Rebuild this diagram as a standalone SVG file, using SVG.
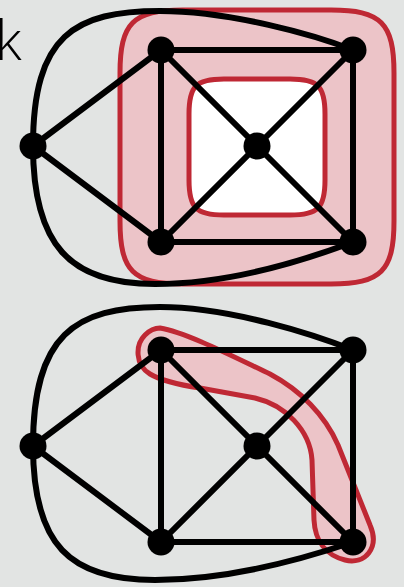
<svg xmlns="http://www.w3.org/2000/svg" width="404" height="587" viewBox="0 0 404 587">
<style>
.edge{fill:none;stroke:#000;stroke-width:6;stroke-linecap:round}
.node{fill:#000}
.region{fill:#ecc4c8;stroke:#bf2834;stroke-width:5;stroke-linejoin:round}
.hole{fill:#fff;stroke:#bf2834;stroke-width:5}
.lbl{font-family:"Open Sans","DejaVu Sans",sans-serif;font-size:55px;font-weight:300;fill:#000}
</style>
<rect width="404" height="587" fill="#e2e4e3"/>
<text class="lbl" x="-5" y="60">k</text>
<g id="regions">
<path class="region" d="M183,10 L331,10 C381,10 394,23 394,73 L394,221 C394,271 381,284 331,284 L183,284 C133,284 120,271 120,221 L120,73 C120,23 133,10 183,10 Z"/>
<path class="hole" d="M224,79 L290,79 C318,79 325,86 325,114 L325,180 C325,208 318,215 290,215 L224,215 C196,215 189,208 189,180 L189,114 C189,86 196,79 224,79 Z"/>
<path class="region" d="M160,328 C185,332 230,355 270,374 C300,390 325,415 338,445 L370,525 C380,548 365,565 345,560 C325,555 315,540 314,520 L312,460 C310,430 285,405 255,398 L200,388 C180,385 160,380 150,374 C135,365 135,345 145,335 C150,330 155,328 160,328 Z"/>
</g>
<g id="connectors">
<path class="edge" d="M33,146 C33,35 75,11 160,11 C230,11 315,35 353,50"/>
<path class="edge" d="M33,146 C33,245 70,284 155,284 C225,284 300,262 353,242"/>
<path class="edge" d="M33,146 L161,50 M33,146 L161,242 M161,50 L353,50 M161,50 L161,242 M161,50 L257,146 M353,50 L257,146 M353,50 L353,242 M257,146 L161,242 M257,146 L353,242 M161,242 L353,242"/>
<path class="edge" d="M33,446 C33,335 75,307 160,307 C230,307 315,335 353,350"/>
<path class="edge" d="M33,446 C33,545 70,580 155,580 C225,580 300,560 353,542"/>
<path class="edge" d="M33,446 L161,350 M33,446 L161,542 M161,350 L353,350 M161,350 L161,542 M161,350 L257,446 M353,350 L257,446 M353,350 L353,542 M257,446 L161,542 M257,446 L353,542 M161,542 L353,542"/>
</g>
<g id="n1"><circle class="node" cx="33" cy="146" r="13.5"/></g>
<g id="n2"><circle class="node" cx="161" cy="50" r="13.5"/></g>
<g id="n3"><circle class="node" cx="353" cy="50" r="13.5"/></g>
<g id="n4"><circle class="node" cx="257" cy="146" r="13.5"/></g>
<g id="n5"><circle class="node" cx="161" cy="242" r="13.5"/></g>
<g id="n6"><circle class="node" cx="353" cy="242" r="13.5"/></g>
<g id="n7"><circle class="node" cx="33" cy="446" r="13.5"/></g>
<g id="n8"><circle class="node" cx="161" cy="350" r="13.5"/></g>
<g id="n9"><circle class="node" cx="353" cy="350" r="13.5"/></g>
<g id="n10"><circle class="node" cx="257" cy="446" r="13.5"/></g>
<g id="n11"><circle class="node" cx="161" cy="542" r="13.5"/></g>
<g id="n12"><circle class="node" cx="353" cy="542" r="13.5"/></g>
</svg>
